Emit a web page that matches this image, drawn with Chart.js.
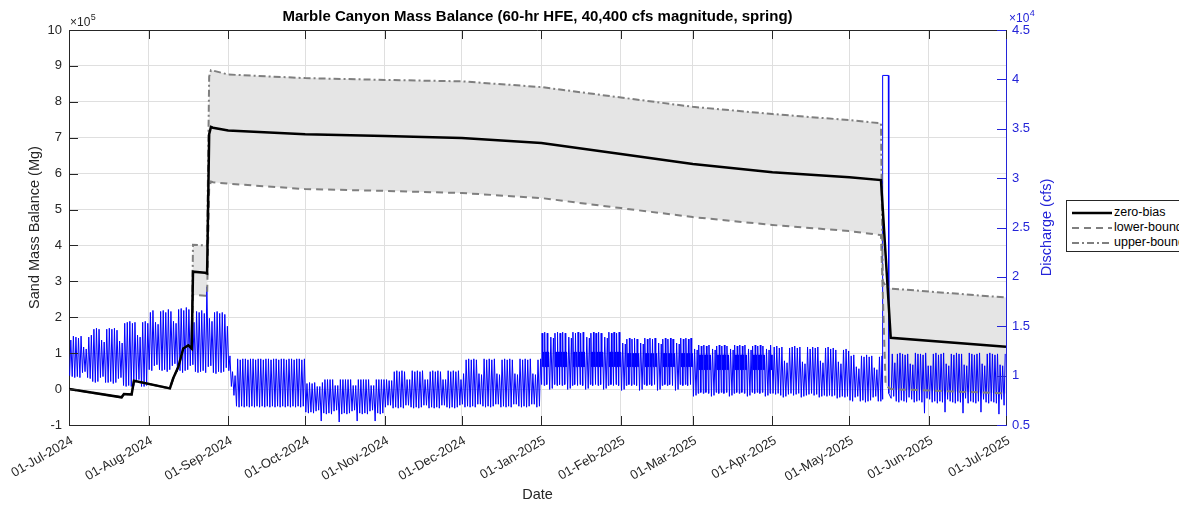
<!DOCTYPE html>
<html><head><meta charset="utf-8">
<script src="https://cdn.jsdelivr.net/npm/chart.js@4.4.1/dist/chart.umd.min.js"></script>
<style>
html,body{margin:0;padding:0;background:#fff;overflow:hidden;}
#wrap{position:relative;width:1179px;height:505px;overflow:hidden;}
#legend{position:absolute;left:1066px;top:200px;width:140px;height:52px;border:1px solid #262626;background:#fff;box-sizing:border-box;font:12.5px "Liberation Sans",Arial,sans-serif;color:#000;}
#legend .row{position:absolute;left:4px;height:14px;white-space:nowrap;}
#legend svg{position:absolute;left:0;top:0;}
#legend span{position:absolute;left:43px;top:-1px;line-height:14px;}
</style></head>
<body><div id="wrap"><canvas id="c" width="1179" height="505"></canvas>
<div id="legend">
 <div class="row" style="top:5px"><svg width="42" height="14"><line x1="1" y1="7" x2="41" y2="7" stroke="#000" stroke-width="2.5"/></svg><span>zero-bias</span></div>
 <div class="row" style="top:20px"><svg width="42" height="14"><line x1="1" y1="7" x2="41" y2="7" stroke="#7f7f7f" stroke-width="2" stroke-dasharray="7,5"/></svg><span>lower-bound</span></div>
 <div class="row" style="top:35px"><svg width="42" height="14"><line x1="1" y1="7" x2="41" y2="7" stroke="#7f7f7f" stroke-width="2" stroke-dasharray="7,3,2,3"/></svg><span>upper-bound</span></div>
</div></div>
<script>
// ---- x axis (days since 01-Jul-2024) ----
const monthDays = [0,31,62,92,123,153,184,215,243,274,304,335,365];
const monthLabels = ['01-Jul-2024','01-Aug-2024','01-Sep-2024','01-Oct-2024','01-Nov-2024','01-Dec-2024',
  '01-Jan-2025','01-Feb-2025','01-Mar-2025','01-Apr-2025','01-May-2025','01-Jun-2025','01-Jul-2025'];

// ---- sand mass balance, units of 10^5 Mg ----
const mbDay   = [0,20.5,21.4,24.4,25.3,39.3,40.6,42.6,44.5,46.5,47.8,48.3,53.0,53.8,54.6,55.3,56.1,62,92,123,153,184,215,243,274,304,316.3,317.0,318.1,320.1,365];
const mbZero  = [0,-0.23,-0.14,-0.15,0.23,0.02,0.30,0.62,1.13,1.22,1.13,3.27,3.24,3.22,7.10,7.30,7.28,7.20,7.10,7.05,6.99,6.85,6.55,6.27,6.04,5.90,5.82,5.01,3.74,1.43,1.18];
const mbLower = [0,-0.23,-0.14,-0.15,0.23,0.02,0.30,0.62,1.13,1.22,1.13,2.62,2.60,2.60,5.60,5.78,5.76,5.72,5.57,5.52,5.46,5.32,5.04,4.79,4.57,4.40,4.29,2.66,0.10,0.00,-0.12];
const mbUpper = [0,-0.23,-0.14,-0.15,0.23,0.02,0.30,0.62,1.13,1.22,1.13,4.02,4.00,4.00,8.70,8.88,8.87,8.76,8.66,8.61,8.57,8.41,8.12,7.86,7.66,7.49,7.40,3.00,2.88,2.80,2.55];

// ---- discharge, daily low / high, thousands of cfs (day 0 = 01-Jul-2024, a Monday) ----
const qHigh = [
 13.6,14.0,13.9,13.8,14.0,12.9,12.7,13.9,14.1,14.7,14.8,14.7,13.6,13.4,14.7,14.8,14.7,14.8,14.6,13.5,13.3,15.3,15.4,15.5,15.3,15.4,14.1,13.9,15.4,15.5,15.3,
 16.4,16.6,15.4,15.2,16.5,16.6,16.4,16.7,16.5,15.5,15.3,16.7,16.8,16.6,16.9,16.7,15.6,15.4,16.5,16.4,16.6,16.3,19.0,15.8,15.5,16.4,16.5,16.3,16.4,16.2,15.0,
 12.0,10.4,10.0,11.7,11.6,11.7,11.7,11.6,11.7,11.7,11.6,11.7,11.7,11.6,11.7,11.7,11.6,11.7,11.7,11.6,11.7,11.7,11.6,11.7,11.7,11.6,11.7,11.7,11.6,11.7,
 9.2,9.3,9.2,9.3,8.9,8.9,9.3,9.6,9.6,9.6,9.6,9.0,9.0,9.6,9.6,9.6,9.6,9.6,9.0,9.0,9.6,9.6,9.6,9.6,9.6,9.0,9.0,9.6,9.6,9.6,9.6,
 9.6,9.5,9.5,10.4,10.5,10.4,10.5,10.4,9.6,9.6,10.5,10.4,10.5,10.4,10.5,9.6,9.6,10.4,10.5,10.4,10.5,10.4,9.6,9.6,10.5,10.4,10.5,10.4,10.5,9.6,
 10.2,11.6,11.7,11.6,11.7,11.6,10.2,10.1,11.7,11.6,11.7,11.6,11.7,10.2,10.1,11.6,11.7,11.6,11.7,11.6,10.2,10.1,11.7,11.6,11.7,11.6,11.7,10.2,10.1,11.6,11.7,
 14.3,14.4,14.3,13.9,13.8,14.3,14.4,14.3,14.4,14.3,13.9,13.8,14.4,14.3,14.4,14.3,14.4,13.9,13.8,14.3,14.4,14.3,14.4,14.3,13.9,13.8,14.4,14.3,14.4,14.3,14.4,
 13.3,13.2,13.7,13.8,13.7,13.8,13.7,13.3,13.2,13.8,13.7,13.8,13.7,13.8,13.3,13.2,13.7,13.8,13.7,13.8,13.7,13.3,13.2,13.8,13.7,13.8,13.7,13.8,
 12.7,12.6,13.1,13.0,13.1,13.0,13.1,12.7,12.6,13.0,13.1,13.0,13.1,13.0,12.7,12.6,13.1,13.0,13.1,13.0,13.1,12.7,12.6,13.0,13.1,13.0,13.1,13.0,12.7,12.6,13.1,
 12.9,13.0,12.8,12.9,11.5,11.3,12.8,12.9,13.0,12.8,12.9,11.4,11.2,12.9,12.7,12.9,12.8,12.9,11.5,11.3,12.8,12.9,12.7,12.8,12.6,11.4,11.2,12.6,12.7,12.5,
 12.0,12.1,10.9,10.7,12.0,11.9,12.1,11.9,12.0,10.8,10.6,11.9,12.0,null,null,null,12.2,11.3,12.2,12.3,12.2,12.1,12.2,11.2,11.1,12.3,12.2,12.2,12.1,12.3,11.0,
 11.0,12.2,12.3,12.1,12.2,12.3,11.2,11.0,12.2,12.1,12.3,12.2,12.2,11.1,11.0,12.3,12.2,12.1,12.2,12.3,11.2,11.0,12.2,12.3,12.2,12.1,12.2,11.1,11.0,12.2
];
const qLow = [
 10.0,9.9,9.8,9.9,9.8,10.3,10.4,9.8,9.7,9.4,9.3,9.4,9.8,9.9,9.3,9.3,9.4,9.2,9.3,9.7,9.8,9.0,8.9,9.0,8.9,9.0,9.5,9.6,8.9,8.9,9.0,
 10.6,10.5,11.0,11.1,10.6,10.5,10.6,10.4,10.6,11.0,11.2,10.4,10.5,10.3,10.5,10.6,11.0,11.1,10.4,10.3,10.4,10.5,10.3,10.9,11.0,10.3,10.2,10.4,10.3,10.4,10.8,
 10.5,8.9,8.0,6.9,6.8,6.9,6.8,6.9,6.8,6.9,6.8,6.9,6.8,6.9,6.8,6.9,6.8,6.9,6.8,6.9,6.8,6.9,6.8,6.9,6.8,6.9,6.8,6.9,6.8,6.9,
 6.3,6.2,6.3,6.2,6.4,6.5,5.4,6.2,6.1,6.2,6.1,6.4,6.5,5.3,6.1,6.2,6.1,6.2,6.4,6.5,5.4,6.2,6.1,6.2,6.1,6.4,6.5,5.4,6.2,6.1,6.2,
 6.8,7.0,7.0,6.7,6.8,6.7,6.8,6.7,7.0,7.0,6.8,6.7,6.8,6.7,6.8,7.0,7.0,6.7,6.8,6.7,6.8,6.7,7.0,7.0,6.8,6.7,6.8,6.7,6.8,7.0,
 7.1,6.8,6.9,6.8,6.9,6.8,7.1,7.1,6.9,6.8,6.9,6.8,6.9,7.1,7.1,6.8,6.9,6.8,6.9,6.8,7.1,7.1,6.9,6.8,6.9,6.8,6.9,7.1,7.1,6.8,6.9,
 9.1,9.0,9.1,8.6,8.7,9.1,9.0,9.1,9.0,9.1,8.6,8.7,9.0,9.1,9.0,9.1,9.0,8.6,8.7,9.1,9.0,9.1,9.0,9.1,8.6,8.7,9.0,9.1,9.0,9.1,9.0,
 8.5,8.6,9.0,9.1,9.0,9.1,9.0,8.5,8.6,9.1,9.0,9.1,9.0,9.1,8.5,8.6,9.0,9.1,9.0,9.1,9.0,8.5,8.6,9.1,9.0,9.1,9.0,9.1,
 7.9,8.0,8.2,8.3,8.2,8.3,8.2,7.9,8.0,8.3,8.2,8.3,8.2,8.3,7.9,8.0,8.2,8.3,8.2,8.3,8.2,7.9,8.0,8.3,8.2,8.3,8.2,8.3,7.9,8.0,8.2,
 8.2,8.1,8.2,8.0,7.8,7.9,8.1,8.2,8.0,8.1,8.2,7.8,7.9,8.0,8.1,8.2,8.0,8.1,7.8,7.9,8.0,7.9,8.0,7.9,8.0,7.7,7.8,7.9,7.8,7.9,
 7.5,7.4,7.8,7.9,7.4,7.5,7.3,7.4,7.5,7.8,7.9,7.4,7.4,null,null,null,7.7,7.9,7.4,7.3,7.5,7.4,7.3,7.8,7.6,7.3,7.4,7.5,7.3,6.2,7.7,
 7.6,7.3,7.4,7.2,7.4,7.3,6.3,7.6,7.4,7.3,7.2,7.4,7.3,6.2,7.7,7.2,7.4,7.3,7.2,7.4,6.3,7.6,7.3,7.2,7.4,7.3,7.2,6.1,7.6,7.0
];
// dense mid-day band seen on weekdays, by month (Jul..Jun), thousands of cfs
const bandHi = [null,null,null,null,null,null,12.4,12.25,12.1,null,null,null];
const bandLo = [null,null,null,null,null,null,10.9,10.9,10.6,null,null,null];
// 60-hr high-flow experiment (day, thousands of cfs)
const hfeDay = [316.85,317.05,319.15,319.35];
const hfeQ   = [7.6,40.4,40.4,8.2];

const TITLE = 'Marble Canyon Mass Balance (60-hr HFE, 40,400 cfs magnitude, spring)';
const FONT = '"Liberation Sans", Arial, sans-serif';
const AXC = '#262626', BLUE = '#2424d8';

const mbPts = arr => mbDay.map((d,i)=>({x:d, y:arr[i]}));
function monthOf(d){ let m=0; while (m<11 && d>=monthDays[m+1]) m++; return m; }
let qPts = [];
for (let d=0; d<qHigh.length; d++){
  if (qLow[d]==null) continue;
  const m = monthOf(d), weekday = (d%7) < 5;
  if (weekday && bandHi[m]!=null){
    qPts.push({x:d+0.1,y:qLow[d]},{x:d+0.3,y:qHigh[d]},
      {x:d+0.5,y:bandLo[m]},{x:d+0.62,y:bandHi[m]},{x:d+0.74,y:bandLo[m]},{x:d+0.88,y:bandHi[m]});
  } else {
    qPts.push({x:d+0.25,y:qLow[d]},{x:d+0.7,y:qHigh[d]});
  }
}
hfeDay.forEach((d,i)=>qPts.push({x:d,y:hfeQ[i]}));
qPts.sort((a,b)=>a.x-b.x);

const deco = {
  id:'deco',
  afterDraw(chart){
    const {ctx, chartArea:a, scales} = chart;
    ctx.save();
    const L=(x1,y1,x2,y2)=>{ctx.beginPath();ctx.moveTo(x1,y1);ctx.lineTo(x2,y2);ctx.stroke();};
    ctx.lineWidth=1; ctx.strokeStyle=AXC;
    L(a.left, a.top+0.5, a.right, a.top+0.5);
    scales.x.ticks.forEach(t=>{const p=Math.round(scales.x.getPixelForValue(t.value))+0.5;
      L(p,a.bottom,p,a.bottom-9); L(p,a.top,p,a.top+9);});
    scales.y.ticks.forEach(t=>{const p=Math.round(scales.y.getPixelForValue(t.value))+0.5;
      L(a.left,p,a.left+9,p);});
    ctx.strokeStyle=BLUE;
    scales.y2.ticks.forEach(t=>{const p=Math.round(scales.y2.getPixelForValue(t.value))+0.5;
      L(a.right,p,a.right-9,p);});
    // title
    ctx.fillStyle='#000'; ctx.font='bold 15px '+FONT; ctx.textAlign='center'; ctx.textBaseline='middle';
    ctx.fillText(TITLE,(a.left+a.right)/2,17);
    // exponents
    ctx.textAlign='left'; ctx.textBaseline='alphabetic';
    ctx.fillStyle=AXC; ctx.font='12px '+FONT;
    let w=ctx.measureText('\u00d710').width; ctx.fillText('\u00d710',a.left+1,26);
    ctx.font='9px '+FONT; ctx.fillText('5',a.left+1+w+0.5,20);
    ctx.fillStyle=BLUE; ctx.font='12px '+FONT;
    w=ctx.measureText('\u00d710').width; ctx.fillText('\u00d710',a.right+3,22);
    ctx.font='9px '+FONT; ctx.fillText('4',a.right+3+w+0.5,16);
    // right axis title
    ctx.translate(1047,(a.top+a.bottom)/2); ctx.rotate(-Math.PI/2);
    ctx.textAlign='center'; ctx.textBaseline='middle'; ctx.font='14.5px '+FONT; ctx.fillStyle=BLUE;
    ctx.fillText('Discharge (cfs)',0,0);
    ctx.restore();
  }
};

new Chart(document.getElementById('c'), {
  type:'line',
  data:{datasets:[
    {label:'zero-bias', data:mbPts(mbZero), yAxisID:'y', borderColor:'#000', borderWidth:2.5, pointRadius:0, fill:false, order:0},
    {label:'lower-bound', data:mbPts(mbLower), yAxisID:'y', borderColor:'#7f7f7f', borderWidth:2, borderDash:[7,5], pointRadius:0, fill:false, order:1},
    {label:'upper-bound', data:mbPts(mbUpper), yAxisID:'y', borderColor:'#7f7f7f', borderWidth:2, borderDash:[7,3,2,3], pointRadius:0, fill:1, backgroundColor:'#e5e5e5', order:2},
    {label:'discharge', data:qPts, yAxisID:'y2', borderColor:'#0000ff', borderWidth:1, pointRadius:0, fill:false, order:3}
  ]},
  options:{
    animation:false, responsive:false, devicePixelRatio:1,
    layout:{padding:{top:30,left:0,right:0,bottom:0}},
    plugins:{legend:{display:false}, tooltip:{enabled:false}, filler:{drawTime:'beforeDatasetsDraw'}},
    scales:{
      x:{type:'linear', min:0, max:365, position:'bottom',
        afterBuildTicks:s=>{s.ticks=monthDays.map(v=>({value:v}));},
        afterFit:s=>{s.height=80;},
        ticks:{autoSkip:false, minRotation:30, maxRotation:30, padding:8, labelOffset:3, color:AXC, font:{family:FONT,size:13},
          callback:(v,i)=>monthLabels[i]},
        grid:{color:'#dfdfdf', drawTicks:false},
        border:{color:AXC, width:1},
        title:{display:true, text:'Date', color:AXC, font:{family:FONT,size:14.5}, padding:{top:0,bottom:1}}},
      y:{position:'left', min:-1, max:10,
        afterFit:s=>{s.width=69;},
        ticks:{stepSize:1, padding:7, color:AXC, font:{family:FONT,size:13}},
        grid:{color:'#dfdfdf', drawTicks:false},
        border:{color:AXC, width:1},
        title:{display:true, text:'Sand Mass Balance (Mg)', color:AXC, font:{family:FONT,size:14.5}, padding:{top:26,bottom:0}}},
      y2:{position:'right', min:5, max:45,
        afterFit:s=>{s.width=173;},
        ticks:{stepSize:5, padding:6, color:BLUE, font:{family:FONT,size:13}, callback:v=>String(v/10)},
        grid:{drawOnChartArea:false, drawTicks:false},
        border:{color:BLUE, width:1}}
    }
  },
  plugins:[deco]
});
</script></body></html>
